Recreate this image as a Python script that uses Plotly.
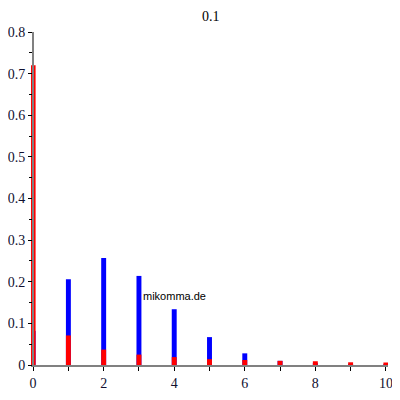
import plotly.graph_objects as go

k = list(range(11))
blue_vals = [0.082, 0.206, 0.257, 0.214, 0.134, 0.067, 0.028, 0.010, 0.003, 0.001, 0.0002]
red_vals = [0.72, 0.071, 0.037, 0.025, 0.019, 0.014, 0.012, 0.010, 0.009, 0.0065, 0.006]
title_text = "0.1"
watermark = "mikomma.de"

fig = go.Figure()
fig.add_trace(go.Bar(x=k, y=blue_vals, width=0.14, marker=dict(color="#0000ff", line=dict(width=0)),
                     hoverinfo="x+y", showlegend=False))
fig.add_trace(go.Bar(x=k, y=red_vals, width=0.14, marker=dict(color="#ff0000", line=dict(width=0)),
                     hoverinfo="x+y", showlegend=False))

# page body has an 8px margin, so the figure is 392 wide/high to fill the window
serif = "Liberation Serif, Times New Roman, serif"
fig.update_layout(
    width=392, height=392,
    barmode="overlay",
    plot_bgcolor="white", paper_bgcolor="white",
    margin=dict(l=23, r=12, t=24, b=35, autoexpand=False),
    xaxis=dict(range=[-0.06, 10.06], dtick=2, tick0=0, showgrid=False, zeroline=False,
               automargin=False,
               showline=True, linecolor="#808080", linewidth=2,
               ticks="outside", ticklen=4, tickcolor="black", tickwidth=1,
               minor=dict(dtick=1, ticks="outside", ticklen=4, tickcolor="black"),
               tickfont=dict(family=serif, size=14, color="#101030"), fixedrange=True),
    yaxis=dict(range=[0, 0.8], dtick=0.1, showgrid=False, zeroline=False,
               automargin=False, anchor="free", position=0.0059,
               showline=True, linecolor="#808080", linewidth=2,
               ticks="outside", ticklen=4, tickcolor="black", tickwidth=1,
               minor=dict(dtick=0.05, ticks="outside", ticklen=3, tickcolor="black"),
               tickfont=dict(family=serif, size=14, color="#101030"), fixedrange=True),
    annotations=[
        dict(text=title_text, x=0.505, y=1.0, xref="paper", yref="paper", yshift=25,
             xanchor="center", yanchor="top", showarrow=False,
             font=dict(family=serif, size=14, color="black")),
        dict(text=watermark, x=3.06, y=0.166, xref="x", yref="y",
             xanchor="left", yanchor="middle", showarrow=False,
             font=dict(family="Liberation Sans, Arial, sans-serif", size=11, color="black")),
    ],
)

fig.write_html("out.html")
